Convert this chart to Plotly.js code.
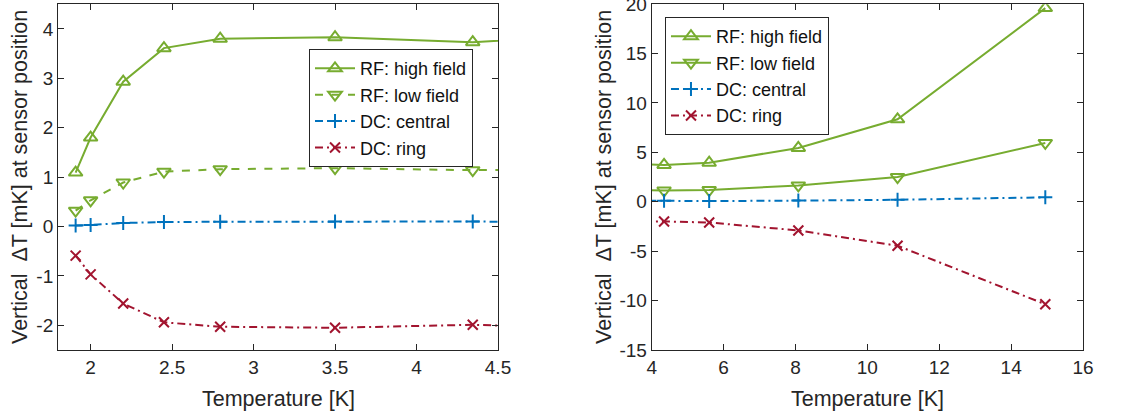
<!DOCTYPE html>
<html>
<head>
<meta charset="utf-8">
<script src="https://cdn.plot.ly/plotly-3.0.1.min.js"></script>
<style>html,body{margin:0;padding:0;background:#fff;}#chart{width:1129px;height:416px;}</style>
</head>
<body>
<div id="chart"></div>
<script>
// Data (same measurement set shown in both panels; left is a zoom on low temperatures)
const temperature = [1.908, 2.0, 2.2, 2.45, 2.795, 3.5, 4.345, 5.6, 8.08, 10.84, 14.95];
const rfHighField = [1.09, 1.80, 2.93, 3.61, 3.80, 3.83, 3.73, 3.95, 5.45, 8.35, 19.6];
const rfLowField  = [0.32, 0.53, 0.89, 1.11, 1.16, 1.18, 1.14, 1.18, 1.65, 2.5, 5.95];
const dcCentral   = [0.02, 0.03, 0.07, 0.09, 0.095, 0.10, 0.10, 0.07, 0.12, 0.2, 0.45];
const dcRing      = [-0.59, -0.97, -1.56, -1.94, -2.03, -2.05, -1.99, -2.1, -2.9, -4.45, -10.37];
const seriesNames = ['RF: high field', 'RF: low field', 'DC: central', 'DC: ring'];
const xTitle = 'Temperature [K]';
const yTitle = 'Vertical  ΔT [mK] at sensor position';

const green = '#77AC30', blue = '#0072BD', red = '#A2142F';
const dashDot = '8px,4px,2px,4px';
const styles = [
  {y: rfHighField, color: green, dashL: 'solid', dashR: 'solid', symbol: 'triangle-up-open'},
  {y: rfLowField,  color: green, dashL: '8px,8.5px', dashR: 'solid', symbol: 'triangle-down-open'},
  {y: dcCentral,   color: blue,  dashL: dashDot, dashR: dashDot, symbol: 'cross-thin-open'},
  {y: dcRing,      color: red,   dashL: dashDot, dashR: dashDot, symbol: 'x-thin-open'}
];

const traces = [];
styles.forEach((s, i) => {
  ['L', 'R'].forEach(side => {
    traces.push({
      x: temperature, y: s.y, name: seriesNames[i],
      type: 'scatter', mode: 'lines+markers',
      xaxis: side === 'L' ? 'x' : 'x2', yaxis: side === 'L' ? 'y' : 'y2',
      legend: side === 'L' ? 'legend' : 'legend2',
      line: {color: s.color, width: 2, dash: side === 'L' ? s.dashL : s.dashR},
      marker: {symbol: s.symbol, size: (s.symbol.indexOf('triangle') === 0 ? 12 : 10), color: s.color, line: {width: 2, color: s.color}},
      cliponaxis: true
    });
  });
});

const font = {family: 'Liberation Sans, Arial, sans-serif', color: '#262626', size: 19};
const axBase = {
  showline: true, linecolor: '#262626', linewidth: 1, mirror: 'ticks',
  ticks: 'inside', ticklen: 6, tickwidth: 1, tickcolor: '#262626',
  showgrid: false, zeroline: false, tickfont: {size: 19, color: '#262626'},
  ticklabeloverflow: 'allow'
};
const yDom = [0.1587, 0.990];
const tfont = {size: 21.5, color: '#262626'};

function title(text, x, y, rot) {
  return {text: text, xref: 'paper', yref: 'paper', x: x, y: y, xanchor: 'center', yanchor: 'middle',
          showarrow: false, textangle: rot, font: tfont};
}

const layout = {
  width: 1129, height: 416,
  margin: {l: 0, r: 0, t: 0, b: 0},
  paper_bgcolor: '#fff', plot_bgcolor: '#fff',
  font: font, showlegend: true,
  xaxis: Object.assign({}, axBase, {domain: [0.0514, 0.4411], range: [1.8, 4.5], anchor: 'y',
    tickvals: [2, 2.5, 3, 3.5, 4, 4.5], ticktext: ['2', '2.5', '3', '3.5', '4', '4.5']}),
  yaxis: Object.assign({}, axBase, {domain: yDom, range: [-2.5, 4.5], anchor: 'x',
    tickvals: [-2, -1, 0, 1, 2, 3, 4], ticktext: ['-2', '-1', '0', '1', '2', '3', '4']}),
  xaxis2: Object.assign({}, axBase, {domain: [0.5772, 0.9593], range: [4, 16], anchor: 'y2',
    tickvals: [4, 6, 8, 10, 12, 14, 16]}),
  yaxis2: Object.assign({}, axBase, {domain: yDom, range: [-15, 20], anchor: 'x2',
    tickvals: [-15, -10, -5, 0, 5, 10, 15, 20], ticktext: ['-15', '-10', '-5', '0', '5', '10', '15', '20']}),
  annotations: [
    title(xTitle, 278 / 1129, 1 - 399 / 416, 0),
    title(xTitle, 867 / 1129, 1 - 399 / 416, 0),
    title(yTitle, 20 / 1129, 1 - 177 / 416, -90),
    title(yTitle, 604 / 1129, 1 - 177 / 416, -90)
  ],
  legend: {x: 0.2737, y: 0.882, xanchor: 'left', yanchor: 'top', bgcolor: '#fff',
    bordercolor: '#262626', borderwidth: 1, font: {size: 18, color: '#111'}, tracegroupgap: 0, itemwidth: 40},
  legend2: {x: 0.589, y: 0.959, xanchor: 'left', yanchor: 'top', bgcolor: '#fff',
    bordercolor: '#262626', borderwidth: 1, font: {size: 18, color: '#111'}, tracegroupgap: 0, itemwidth: 40}
};

Plotly.newPlot('chart', traces, layout, {displayModeBar: false, staticPlot: true});
</script>
</body>
</html>
